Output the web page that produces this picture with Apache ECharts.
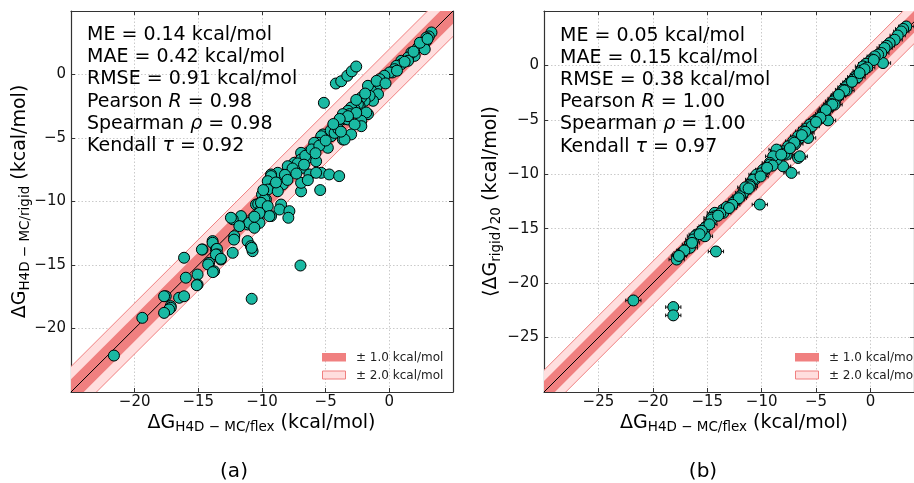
<!DOCTYPE html>
<html>
<head>
<meta charset="utf-8">
<script src="https://cdn.jsdelivr.net/npm/echarts@6/dist/echarts.min.js"></script>
<style>
  html, body { margin: 0; padding: 0; background: #fff; }
  #chart { width: 914px; height: 483px; }
</style>
</head>
<body>
<div id="chart"></div>
<script>
// ---- panel (a): H4D-MC/flex vs H4D-MC/rigid ----
const flexA = [
  3.31, 3.1, 2.91, 2.91, 2.65, 2.26, 2.78, 1.99, 1.73, 1.47, 1.47, 0.94, 0.94, 0.55, 0.41, 0.24, 0.02, -0.39, -0.63, -0.76,
  -1.02, -1.42, -1.68, -0.89, -1.28, -1.55, -1.94, -2.2, -2.34, -2.47, -2.73, -3.0, -3.25, -1.68, -1.81, -3.12, -3.65, -3.52, -2.2, -2.2,
  -3.25, -2.6, -3.25, -4.04, -2.73, -5.22, -4.57, -3.65, -3.0, -3.52, -5.35, -5.61, -5.9, -4.83, -6.4, -6.4, -6.93, -5.75, -7.46, -6.93,
  -7.98, -7.98, -6.8, -8.63, -8.76, -9.29, -9.29, -8.37, -9.55, -9.03, -9.55, -8.76, -10.0, -9.69, -9.81, -10.47, -10.3, -10.08, -10.08, -9.55,
  -8.5, -8.63, -9.29, -9.42, -7.85, -7.93, -11.65, -12.3, -12.44, -10.6, -10.34, -11.13, -11.0, -11.78, -10.2, -10.6, -10.2, -10.6,
  -4.2, -3.78, -3.3, -2.95, -2.6, -5.14, -5.35, -4.72, -3.94, -5.43, -6.93, -6.27, -5.75, -6.93, -6.4,
  -11.13, -10.87, -10.74, -10.81, -12.18, -12.3, -13.88, -13.88, -13.62, -13.54, -13.49, -13.62, -13.23, -13.23, -14.15, -14.23, -13.76, -13.86,
  -14.67, -14.72, -16.12, -15.98, -15.06, -15.06, -15.12, -16.51, -16.12, -17.56, -17.69, -17.17, -17.17, -17.3, -17.69, -19.4, -21.63,
  -6.98, -10.81, -12.2,
  -7.2, -7.6, -8.2, -8.0, -6.6, -6.1, -5.5, -5.0, -4.6, -4.3, -4.0, -3.8, -5.8, -6.7, -7.3, -8.9, -9.9,
  -1.0, -0.3, 0.6, 1.2, 2.4, 3.0, 1.9, -1.9, -2.6, -3.9, -4.4
];
const rigidA = [
  3.31, 3.0, 2.91, 2.65, 2.39, 2.13, 1.99, 1.47, 1.73, 1.34, 1.08, 1.08, 0.81, 0.68, 0.42, 0.16, 0.16, -0.1, -0.63, -0.37,
  -1.02, -1.28, -0.89, -1.55, -2.07, -1.68, -2.07, -1.81, -2.47, -2.34, -2.73, -2.6, -2.86, -3.12, -2.99, -3.12, -3.12, -3.52, -3.65, -4.07,
  -3.54, -3.02, -3.28, -3.8, -3.94, -4.72, -4.86, -5.12, -4.72, -5.12, -4.86, -5.38, -5.38, -5.77, -6.56, -6.17, -6.17, -6.83, -6.95, -6.69,
  -7.61, -7.22, -7.35, -8.27, -7.74, -7.87, -8.0, -8.66, -8.4, -8.8, -9.06, -9.19, -9.45, -9.84, -9.84, -10.24, -10.2, -10.63, -10.1, -10.37,
  -10.24, -10.63, -11.15, -11.15, -10.76, -11.28, -11.15, -11.4, -11.28, -11.28, -11.28, -11.81, -11.68, -11.94, -11.68, -12.07, -10.9, -11.2,
  -0.71, -0.53, -0.1, 0.25, 0.63, -2.23, -7.74, -7.87, -8.0, -9.1, -9.2, -7.87, -7.74, -8.53, -8.32,
  -13.12, -13.52, -13.91, -13.65, -12.73, -14.04, -13.12, -13.25, -13.78, -13.73, -14.17, -14.17, -14.57, -14.51, -14.83, -14.96, -15.49, -15.56,
  -13.78, -13.78, -14.43, -16.0, -15.75, -16.54, -16.59, -17.58, -17.46, -17.46, -17.46, -18.24, -18.37, -18.5, -18.77, -19.16, -22.13,
  -15.04, -17.66, -13.0,
  -7.0, -7.4, -7.9, -8.3, -6.4, -5.9, -5.6, -5.2, -4.4, -4.6, -4.3, -4.5, -6.2, -7.1, -7.8, -8.5, -9.1,
  -0.5, -0.7, 0.3, 1.0, 2.5, 2.8, 1.8, -1.5, -2.0, -3.5, -3.9
];

// ---- panel (b): H4D-MC/flex vs <rigid>_20 ----
const flexB = [
  3.29, 3.0, 2.83, 2.5, 2.22, 1.76, 1.5, 1.3, 1.0, 1.15, 0.7, 0.39, 0.1, -0.07, -0.4, -0.69, -0.9, -1.15, -1.4, -1.6,
  -1.85, -2.06, -2.3, -2.52, -2.75, -2.98, -3.2, -3.44, -3.6, -3.74, -4.0, -4.2, -4.35, -4.5, -4.96, -3.9, -5.2, -5.58, -5.88, -5.9,
  -6.19, -6.5, -6.65, -5.73, -7.11, -7.26, -7.57, -7.72, -8.03, -8.48, -8.63, -6.65, -6.5, -8.03, -7.26, -8.63, -8.94, -9.25, -9.25, -9.71,
  -9.86, -10.32, -10.47, -10.62, -10.78, -11.08, -11.08, -11.39, -11.7, -11.99, -12.3, -10.17, -12.92, -13.53, -13.53, -14.3, -14.3, -14.6, -14.6, -15.06,
  -15.21, -15.21, -15.97, -16.13, -16.28, -16.59, -16.59, -17.35, -17.5, -17.81, -14.2, -21.79, -18.12, -18.12,
  -3.3, -2.2, -1.2, 0.3, -4.7, -5.4, -6.9, -7.9, -9.0, -10.0, -11.5, -12.6, -13.2,
  -0.3, -0.55, -1.0, -1.7, -2.4, -2.9, -3.5, -4.1, -4.6, -5.0, -6.0, -6.3, -7.0, -7.4, -8.2,
  -9.5, -10.1, -11.2, -12.1, -12.7, -13.0, -13.8, -14.0, -14.8, -15.5, -15.7, -16.4, -17.1, -17.6
];
const rigidB = [
  3.58, 3.35, 3.12, 2.75, 2.36, 2.05, 1.8, 1.6, 1.14, 0.22, 1.0, 0.83, 0.55, 0.37, 0.15, -0.09, -0.5, -0.85, -1.05, -1.31,
  -1.55, -1.77, -2.0, -2.23, -2.55, -2.84, -3.05, -3.3, -3.55, -3.76, -3.95, -4.22, -4.45, -4.68, -4.98, -5.05, -5.15, -5.44, -6.2, -5.8,
  -6.06, -6.66, -6.51, -6.66, -6.97, -7.43, -7.43, -8.19, -7.89, -7.89, -7.73, -8.5, -8.35, -9.27, -9.87, -8.65, -8.35, -8.95, -9.11, -9.57,
  -9.57, -10.03, -10.03, -10.49, -10.49, -10.95, -11.1, -11.4, -11.71, -12.02, -12.32, -12.78, -12.94, -13.24, -13.54, -13.54, -13.85, -14.0, -14.16, -14.77,
  -14.92, -15.69, -15.53, -15.69, -15.99, -16.45, -16.75, -17.21, -17.37, -17.83, -17.09, -21.59, -22.2, -22.96,
  -3.6, -2.3, -1.1, 0.5, -4.9, -5.6, -7.2, -8.1, -9.2, -9.9, -11.2, -12.6, -13.0,
  -0.2, -0.35, -0.7, -1.5, -2.3, -2.7, -3.6, -4.1, -4.8, -5.2, -6.1, -6.4, -7.1, -7.6, -8.2,
  -9.4, -10.2, -11.3, -12.2, -12.8, -13.1, -13.6, -13.8, -14.6, -15.2, -15.5, -16.3, -17.0, -17.5
];

// axis extents [min, max] and tick step
const rangeA = { x: [-25, 5], y: [-25, 5] };
const rangeB = { x: [-30, 4], y: [-30, 5] };
const tickStep = 5;

// half-widths of the error bars (kcal/mol)
const errA = { x: 0.3, y: 0.35 };
const errB = { x: 0.7, y: 0.45 };

// tolerance bands around the identity line (kcal/mol)
const bandWidths = [2.0, 1.0];

// statistics printed in each panel
const statsA = ['0.14', '0.42', '0.91', '0.98', '0.98', '0.92'];
const statsB = ['0.05', '0.15', '0.38', '1.00', '1.00', '0.97'];

const FONT = 'DejaVu Sans';
const TEAL = '#1ab9a3';
const CORAL = '#f08080';
const PINK = '#ffdede';
const AXIS_COLOR = '#333';

const minus = v => String(v).replace('-', '\u2212');

function pairs(xs, ys) { return xs.map((x, i) => [x, ys[i]]); }

function axisPair(kind, gridIndex, range, withLabels) {
  const main = {
    gridIndex, type: 'value', min: range[0], max: range[1], interval: tickStep,
    position: kind === 'x' ? 'bottom' : 'left',
    axisLine: { show: true, onZero: false, lineStyle: { color: AXIS_COLOR, width: 1.2 } },
    axisTick: { show: true, inside: true, length: 4, lineStyle: { color: AXIS_COLOR, width: 1 } },
    axisLabel: {
      show: withLabels, showMinLabel: false, showMaxLabel: false,
      formatter: minus, fontFamily: FONT, fontSize: 15, color: '#111',
      margin: kind === 'x' ? 3 : 5
    },
    splitLine: { show: true, lineStyle: { color: '#bdbdbd', type: [1.5, 2], width: 0.8 } }
  };
  const twin = {
    gridIndex, type: 'value', min: range[0], max: range[1], interval: tickStep,
    position: kind === 'x' ? 'top' : 'right',
    axisLine: { show: true, onZero: false, lineStyle: { color: AXIS_COLOR, width: 1.2 } },
    axisTick: { show: true, inside: true, length: 4, lineStyle: { color: AXIS_COLOR, width: 1 } },
    axisLabel: { show: false },
    splitLine: { show: false }
  };
  return [main, twin];
}

function bandSeries(gi, range, idx, fill, stroke) {
  const lo = Math.min(range.x[0], range.y[0]) - 10;
  const hi = Math.max(range.x[1], range.y[1]) + 10;
  return {
    type: 'custom', xAxisIndex: gi * 2, yAxisIndex: gi * 2, clip: true, silent: true, z: 1 + idx,
    data: [[bandWidths[idx]]],
    renderItem: (params, api) => {
      const w = api.value(0);
      const pts = [api.coord([lo, lo + w]), api.coord([hi, hi + w]), api.coord([hi, hi - w]), api.coord([lo, lo - w])];
      return { type: 'polygon', shape: { points: pts }, style: { fill, stroke: stroke || null, lineWidth: stroke ? 1 : 0 } };
    }
  };
}

function identitySeries(gi, range) {
  const lo = Math.min(range.x[0], range.y[0]);
  const hi = Math.max(range.x[1], range.y[1]);
  return {
    type: 'line', xAxisIndex: gi * 2, yAxisIndex: gi * 2, data: [[lo, lo], [hi, hi]],
    symbol: 'none', clip: true, silent: true, z: 4,
    lineStyle: { color: '#000', width: 1 }
  };
}

function errorSeries(gi, pts, err) {
  return {
    type: 'custom', xAxisIndex: gi * 2, yAxisIndex: gi * 2, clip: true, silent: true, z: 5,
    data: pts,
    renderItem: (params, api) => {
      const x = api.value(0), y = api.value(1);
      const l = api.coord([x - err.x, y]), r = api.coord([x + err.x, y]);
      const t = api.coord([x, y + err.y]), b = api.coord([x, y - err.y]);
      const st = { stroke: '#111', lineWidth: 1 };
      const cap = 1.8;
      return {
        type: 'group', children: [
          { type: 'line', shape: { x1: l[0], y1: l[1], x2: r[0], y2: r[1] }, style: st },
          { type: 'line', shape: { x1: t[0], y1: t[1], x2: b[0], y2: b[1] }, style: st },
          { type: 'line', shape: { x1: l[0], y1: l[1] - cap, x2: l[0], y2: l[1] + cap }, style: st },
          { type: 'line', shape: { x1: r[0], y1: r[1] - cap, x2: r[0], y2: r[1] + cap }, style: st },
          { type: 'line', shape: { x1: t[0] - cap, y1: t[1], x2: t[0] + cap, y2: t[1] }, style: st },
          { type: 'line', shape: { x1: b[0] - cap, y1: b[1], x2: b[0] + cap, y2: b[1] }, style: st }
        ]
      };
    }
  };
}

function pointSeries(gi, pts) {
  return {
    type: 'scatter', xAxisIndex: gi * 2, yAxisIndex: gi * 2, data: pts, z: 6,
    symbol: 'circle', symbolSize: 11, clip: true,
    itemStyle: { color: TEAL, borderColor: '#000', borderWidth: 1, opacity: 1 },
    emphasis: { disabled: true }
  };
}

const rich = {
  n: { fontFamily: FONT, fontSize: 19, fill: '#000', lineHeight: 22.2 },
  i: { fontFamily: FONT, fontSize: 19, fill: '#000', lineHeight: 22.2, fontStyle: 'italic' }
};

function statsText(left, top, s) {
  const text = [
    '{n|ME = ' + s[0] + ' kcal/mol}',
    '{n|MAE = ' + s[1] + ' kcal/mol}',
    '{n|RMSE = ' + s[2] + ' kcal/mol}',
    '{n|Pearson }{i|R}{n| = ' + s[3] + '}',
    '{n|Spearman }{i|\u03C1}{n| = ' + s[4] + '}',
    '{n|Kendall }{i|\u03C4}{n| = ' + s[5] + '}'
  ].join('\n');
  return { type: 'text', x: left, y: top, z: 20, style: { text, rich, align: 'left', verticalAlign: 'top' } };
}

const labelRich = {
  m: { fontFamily: FONT, fontSize: 19, fill: '#000', lineHeight: 24, verticalAlign: 'middle' },
  s: { fontFamily: FONT, fontSize: 13.5, fill: '#000', lineHeight: 14.5, verticalAlign: 'bottom' }
};

function axisTitle(x, y, text, rotated) {
  return {
    type: 'text', x, y, rotation: rotated ? Math.PI / 2 : 0, z: 20,
    style: { text, rich: labelRich, align: 'center', verticalAlign: 'middle' }
  };
}

function legendItems(left, top) {
  const txt = (y, s) => ({ type: 'text', x: left + 34, y, z: 20,
    style: { text: s, fontFamily: FONT, fontSize: 12, fill: '#222', align: 'left', verticalAlign: 'middle' } });
  return [
    { type: 'rect', x: left, y: top, z: 20, shape: { width: 24, height: 8.5 }, style: { fill: CORAL } },
    { type: 'rect', x: left + 0.5, y: top + 18, z: 20, shape: { width: 23, height: 8 }, style: { fill: PINK, stroke: CORAL, lineWidth: 1 } },
    txt(top + 4.5, '\u00B1 1.0 kcal/mol'),
    txt(top + 22.5, '\u00B1 2.0 kcal/mol')
  ];
}

const ptsA = pairs(flexA, rigidA);
const ptsB = pairs(flexB, rigidB);

const [xa0, xa1] = axisPair('x', 0, rangeA.x, true);
const [ya0, ya1] = axisPair('y', 0, rangeA.y, true);
const [xb0, xb1] = axisPair('x', 1, rangeB.x, true);
const [yb0, yb1] = axisPair('y', 1, rangeB.y, true);

const option = {
  animation: false,
  backgroundColor: '#fff',
  grid: [
    { left: 71, top: 11, width: 382, height: 381 },
    { left: 544, top: 11, width: 370, height: 381 }
  ],
  xAxis: [xa0, xa1, xb0, xb1],
  yAxis: [ya0, ya1, yb0, yb1],
  series: [
    bandSeries(0, rangeA, 0, PINK, CORAL),
    bandSeries(0, rangeA, 1, CORAL, null),
    identitySeries(0, rangeA),
    errorSeries(0, ptsA, errA),
    pointSeries(0, ptsA),
    bandSeries(1, rangeB, 0, PINK, CORAL),
    bandSeries(1, rangeB, 1, CORAL, null),
    identitySeries(1, rangeB),
    errorSeries(1, ptsB, errB),
    pointSeries(1, ptsB)
  ],
  graphic: [
    statsText(87, 24, statsA),
    statsText(560, 24.5, statsB),
    axisTitle(261.5, 422.7, '{m|\u0394G}{s|H4D \u2212 MC/flex}{m| (kcal/mol)}', false),
    axisTitle(734, 422.7, '{m|\u0394G}{s|H4D \u2212 MC/flex}{m| (kcal/mol)}', false),
    axisTitle(20, 201.5, '{m|\u0394G}{s|H4D \u2212 MC/rigid}{m| (kcal/mol)}', true),
    axisTitle(491, 201.5, '{m|\u27E8\u0394G}{s|rigid}{m|\u27E9}{s|20}{m| (kcal/mol)}', true),
    { type: 'text', x: 234, y: 472, z: 20, style: { text: '(a)', fontFamily: FONT, fontSize: 20, fill: '#000', align: 'center', verticalAlign: 'middle' } },
    { type: 'text', x: 703, y: 472, z: 20, style: { text: '(b)', fontFamily: FONT, fontSize: 20, fill: '#000', align: 'center', verticalAlign: 'middle' } },
    ...legendItems(322, 353),
    ...legendItems(795, 353)
  ]
};

const chart = echarts.init(document.getElementById('chart'), null, { renderer: 'canvas' });
chart.setOption(option);
</script>
</body>
</html>
